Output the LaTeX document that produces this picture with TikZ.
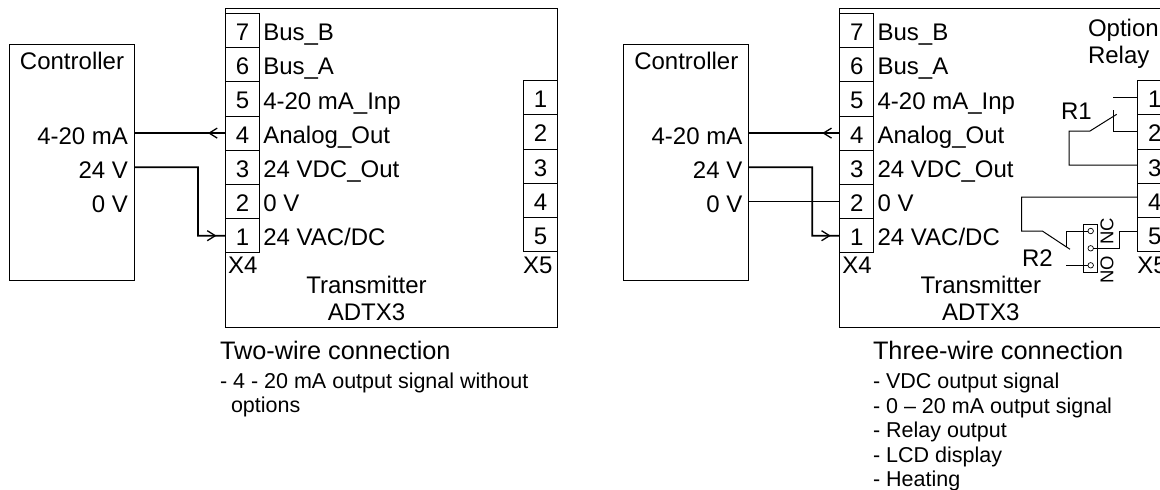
\documentclass[tikz,border=0pt]{standalone}
\usepackage{fontspec}
\setmainfont{Liberation Sans}
\usetikzlibrary{arrows.meta,decorations.markings}

\begin{document}
\begin{tikzpicture}[
    x=1pt, y=-1pt,
    unitbox/.style={draw, line width=0.9pt, inner sep=0pt, outer sep=0pt},
    term/.style={unitbox, minimum width=34pt, minimum height=34.2pt, text height=20pt, text depth=0pt, font=\fontsize{24}{24}\selectfont},
    lbl/.style={inner sep=0pt, outer sep=0pt, anchor=base west, font=\fontsize{24}{24}\selectfont},
    lblr/.style={lbl, anchor=base east},
    lblc/.style={lbl, anchor=base},
    head/.style={lbl, font=\fontsize{25.3}{26}\selectfont},
    note/.style={lbl, font=\fontsize{21.5}{22}\selectfont},
    contact/.style={inner sep=0pt, outer sep=0pt, anchor=base, rotate=90, font=\fontsize{18.5}{19}\selectfont},
    pole/.style={draw, circle, line width=0.7pt, minimum size=5.5pt, inner sep=0pt, outer sep=0pt},
    wire/.style={line width=1.8pt},
    thin wire/.style={line width=1pt},
    tipat/.style={postaction={decorate, decoration={markings, mark=at position #1 with {\arrow[line width=1.3pt]{Straight Barb[length=8pt,width=10pt]}}}}}
]
    \path[use as bounding box, clip] (0,0) rectangle (1160,490);

    \foreach \p/\dx in {two/0, three/614.3} {
    \begin{scope}[xshift=\dx pt]
        \node[unitbox, minimum width=125pt, minimum height=235.5pt] (\p-ctrl) at (72,162.2) {};
        \node[unitbox, minimum width=332pt, minimum height=319pt] (\p-trans) at (391.5,168) {};

        \node[lblc] (\p-ctrltxt) at (72,69.5) {Controller};
        \node[lblr] (\p-ma) at (128,144) {4-20 mA};
        \node[lblr] (\p-vs) at (128,178) {24 V};
        \node[lblr] (\p-vz) at (128,212.5) {0 V};

        % X4 terminals, top to bottom
        \foreach \n/\t [count=\k from 0] in {7/Bus\_B, 6/Bus\_A, 5/4-20 mA\_Inp, 4/Analog\_Out, 3/24 VDC\_Out, 2/0 V, 1/{24 VAC/DC}} {
            \node[term] (\p-xf\n) at (242.5,30.5+34.2*\k) {\n};
            \node[lbl] (\p-sig\n) at (263.3,40.7+34.2*\k) {\t};
        }
        % X5 terminals
        \foreach \n in {1,...,5} {
            \node[term] (\p-xs\n) at (540.5,97.7+34.2*\n-34.2) {\n};
        }

        \node[lbl] (\p-xflbl) at (228,273) {X4};
        \node[lbl] (\p-xslbl) at (523,273) {X5};
        \node[lblc] (\p-type) at (366.5,293) {Transmitter};
        \node[lblc] (\p-model) at (366.5,320) {ADTX3};

        \draw[wire, tipat=17.5pt] (\p-xf4.west) -- (\p-xf4.west -| \p-ctrl.east);
        \coordinate (\p-knee) at (198,235.7);
        \draw[wire, tipat=-9pt] (\p-xf3.west -| \p-ctrl.east) -| (\p-knee) -- (\p-xf1.west);
    \end{scope}
    }
    \draw[wire] (three-xf2.west -| three-ctrl.east) -- (three-xf2.west);

    \node[head] (twohead) at (220,359) {Two-wire connection};
    \node[note] (twoa) at (220,388) {- 4 - 20 mA output signal without};
    \node[note] (twob) at (231,412.7) {options};

    \node[head] (threehead) at (873,359) {Three-wire connection};
    \node[note] (threea) at (873,388) {- VDC output signal};
    \node[note] (threeb) at (873,413) {- 0 – 20 mA output signal};
    \node[note] (threec) at (873,437.5) {- Relay output};
    \node[note] (threed) at (873,462) {- LCD display};
    \node[note] (threee) at (873,486.5) {- Heating};

    \node[lbl] (option) at (1088,36.7) {Option};
    \node[lbl] (relay) at (1088,63) {Relay};
    \node[lbl] (rone) at (1061,119) {R1};
    \node[lbl] (rtwo) at (1022,266) {R2};

    % relay R1
    \coordinate (ronea) at (1113.3,97);
    \coordinate (roneb) at (1113.3,110);
    \coordinate (ronec) at (1113.3,131);
    \coordinate (roned) at (1116.7,114.3);
    \coordinate (ronee) at (1090,131);
    \coordinate (ronef) at (1069,165);
    \draw[thin wire] (ronea) -- (ronea -| three-xs1.west);
    \draw[thin wire] (roneb) -- (ronec) -- (ronec -| three-xs2.west);
    \draw[thin wire] (roned) -- (ronee) -| (ronef) -- (ronef -| three-xs3.west);

    % relay R2
    \node[unitbox, minimum width=14.4pt, minimum height=48.3pt] (socket) at (1090.5,248.2) {};
    \node[pole] (nc) at (1090.7,231) {};
    \node[pole] (com) at (1090.7,248.3) {};
    \node[pole] (no) at (1090.7,265.3) {};
    \node[contact] (nclbl) at (1113.3,231) {NC};
    \node[contact] (nolbl) at (1113.3,269.5) {NO};
    \coordinate (rtwoa) at (1021.7,197);
    \coordinate (rtwob) at (1042.3,231);
    \coordinate (rtwoc) at (1070,249.3);
    \coordinate (rtwod) at (1066,246.7);
    \coordinate (rtwoe) at (1066,265.3);
    \coordinate (rtwof) at (1119,231);
    \draw[thin wire] (rtwoa -| three-xs4.west) -- (rtwoa) |- (rtwob) -- (rtwoc);
    \draw[thin wire] (rtwod) |- (nc.west);
    \draw[thin wire] (rtwoe) -- (no.west);
    \draw[thin wire] (com.east) -| (rtwof) -- (rtwof -| three-xs5.west);
\end{tikzpicture}
\end{document}
